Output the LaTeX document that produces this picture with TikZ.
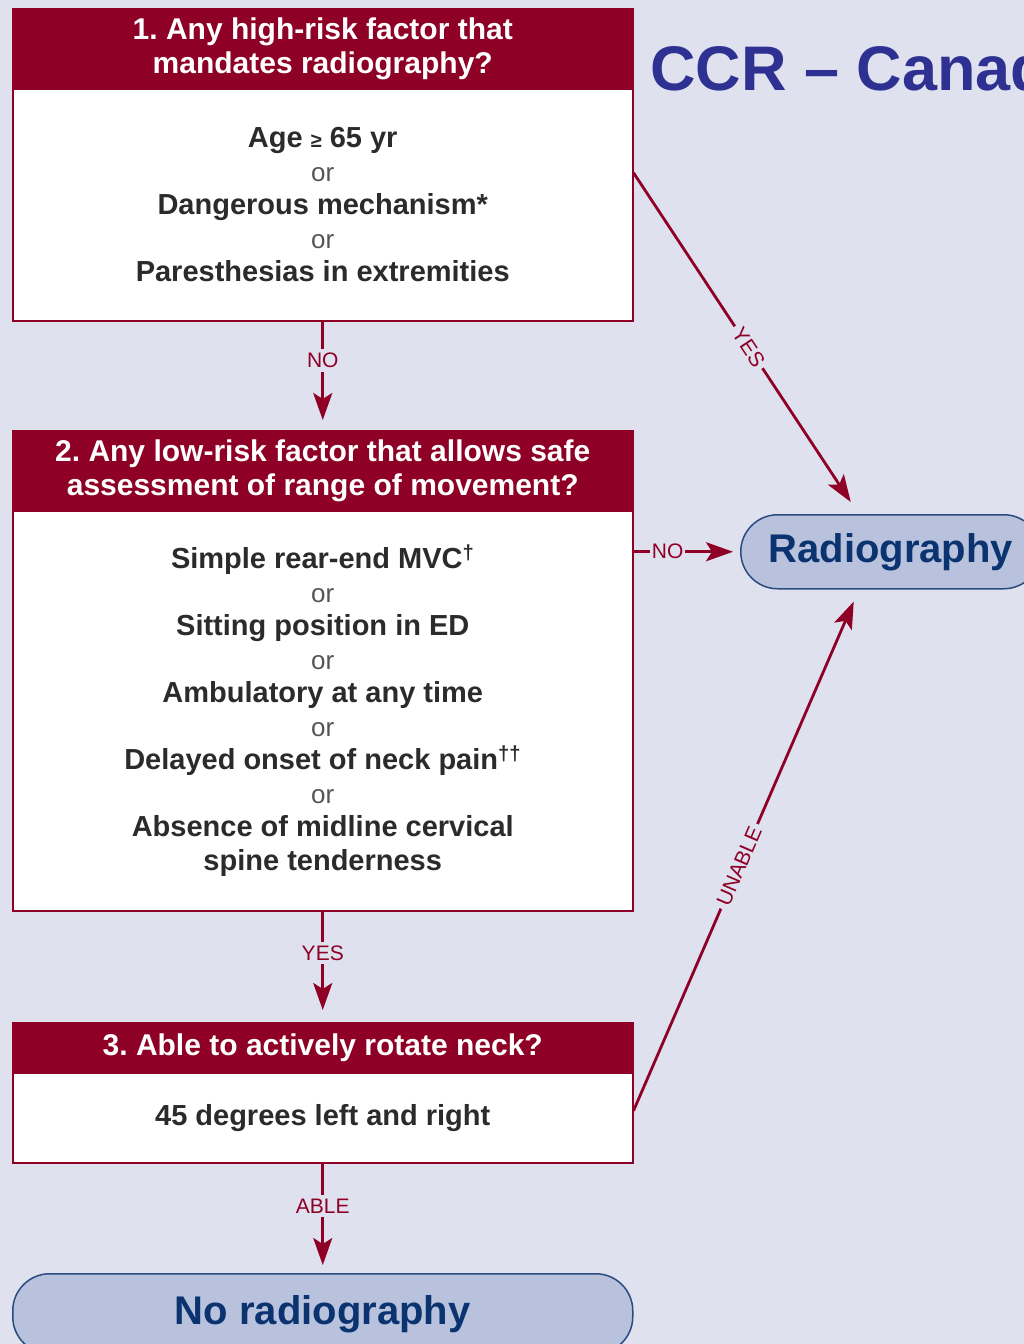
\documentclass[tikz,border=0pt]{standalone}
\usepackage{fontspec}
\setmainfont{Liberation Sans}
\usetikzlibrary{arrows.meta,calc}
\definecolor{bg}{HTML}{DFE2EE}
\definecolor{ccrred}{HTML}{8F0026}
\definecolor{radfill}{HTML}{B8C2DC}
\definecolor{radline}{HTML}{2B4A80}
\definecolor{radtext}{HTML}{0A3370}
\definecolor{titleblue}{HTML}{2E3192}
\definecolor{bodytext}{HTML}{2B2B2B}
\definecolor{ortext}{HTML}{555555}
\newcommand\ortxt{{\fontsize{26}{33}\selectfont\mdseries\color{ortext}or}}
\newcommand\gesym{{\fontsize{20}{20}\selectfont ≥}}
\frenchspacing
\begin{document}
\begin{tikzpicture}[x=1pt,y=-1pt,
  hdr/.style={draw=ccrred, fill=ccrred, line width=1.5pt, text=white,
    font=\fontsize{30}{34}\selectfont\bfseries, align=center,
    minimum width=620pt, inner sep=0pt, anchor=north west},
  bodybox/.style={draw=ccrred, fill=white, line width=1.5pt, text=bodytext,
    font=\fontsize{29}{33.5}\selectfont\bfseries, align=center,
    minimum width=620pt, inner sep=0pt, anchor=north west},
  term/.style={draw=radline, fill=radfill, line width=1.5pt, text=radtext,
    font=\fontsize{40}{44}\selectfont\bfseries, rounded corners=37pt,
    inner sep=0pt, anchor=north west},
  flow/.style={draw=ccrred, line width=2.8pt,
    -{Stealth[length=27pt,width=19pt,inset=6pt]}},
  lbl/.style={fill=bg, text=ccrred, font=\fontsize{21}{21}\selectfont, inner sep=4pt}]
\useasboundingbox (0,0) rectangle (1024,1344);
\clip (0,0) rectangle (1024,1344);
\fill[bg] (0,0) rectangle (1024,1344);

\node[anchor=base west, text=titleblue, font=\fontsize{63}{63}\selectfont\bfseries, inner sep=0pt] (title) at (650,90) {CCR – Canadian};

\node[hdr, minimum height=80pt] (h1) at (12,8) {1. Any high-risk factor that\\mandates radiography?};
\node[bodybox, minimum height=232pt] (b1) at (12,88) {Age \gesym{} 65 yr\\\ortxt\\Dangerous mechanism*\\\ortxt\\Paresthesias in extremities};

\node[hdr, minimum height=80pt] (h2) at (12,430) {2. Any low-risk factor that allows safe\\assessment of range of movement?};
\node[bodybox, minimum height=400pt] (b2) at (12,510) {Simple rear-end MVC\textsuperscript{†}\\\ortxt\\Sitting position in ED\\\ortxt\\Ambulatory at any time\\\ortxt\\Delayed onset of neck pain\textsuperscript{††}\\\ortxt\\Absence of midline cervical\\spine tenderness};

\node[hdr, minimum height=50pt] (h3) at (12,1022) {3. Able to actively rotate neck?};
\node[bodybox, minimum height=90pt] (b3) at (12,1072) {45 degrees left and right};

\node[term, minimum width=620pt, minimum height=80pt] (norad) at (12,1273) {No radiography};
\node[term, minimum width=300pt, minimum height=74pt] (rad) at (740,514) {Radiography};

\coordinate (yesA) at ([yshift=32pt]b1.east);
\coordinate (yesB) at ([xshift=-40pt,yshift=12pt]rad.north);
\coordinate (unA) at ([yshift=7pt]b3.east);
\coordinate (unB) at ([xshift=-37pt,yshift=-12pt]rad.south);
\coordinate (noA) at (b2.east |- rad.west);

\draw[flow, shorten >=10pt] (b1.south) -- node[lbl, pos=0.36] (l1) {NO} (h2.north);
\draw[flow, shorten >=12pt] (b2.south) -- node[lbl, pos=0.375] (l2) {YES} (h3.north);
\draw[flow, shorten >=8pt] (b3.south) -- node[lbl, pos=0.39] (l3) {ABLE} (norad.north);
\draw[flow, shorten >=7pt] (noA) -- node[lbl, pos=0.32, inner sep=2pt] (l4) {NO} (rad.west);
\draw[flow] (yesA) -- node[lbl, pos=0.53, sloped] (l5) {YES} (yesB);
\draw[flow] (unA) -- node[lbl, pos=0.48, sloped] (l6) {UNABLE} (unB);
\end{tikzpicture}
\end{document}
